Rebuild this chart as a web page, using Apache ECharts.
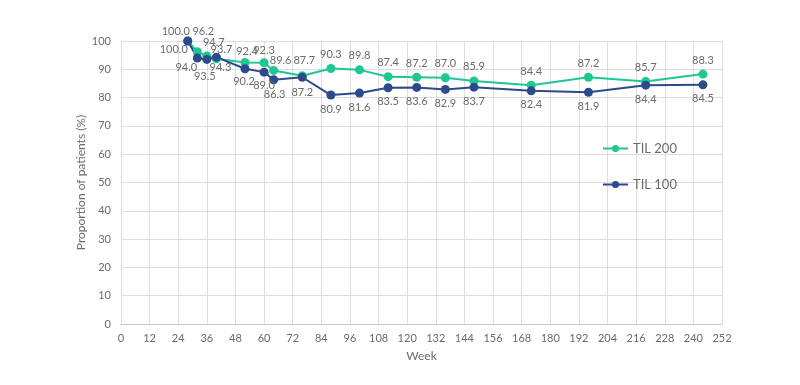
<!DOCTYPE html>
<html>
<head>
<meta charset="utf-8">
<script src="https://cdn.jsdelivr.net/npm/echarts@6/dist/echarts.min.js"></script>
<style>html,body{margin:0;padding:0;background:#fff;}#c{width:800px;height:385px;}</style>
</head>
<body>
<div id="c"></div>
<script>
var weeks = [28, 32, 36, 40, 52, 60, 64, 76, 88, 100, 112, 124, 136, 148, 172, 196, 220, 244];
var til200 = [100.0, 96.2, 94.7, 93.7, 92.4, 92.3, 89.6, 87.7, 90.3, 89.8, 87.4, 87.2, 87.0, 85.9, 84.4, 87.2, 85.7, 88.3];
var til100 = [100.0, 94.0, 93.5, 94.3, 90.2, 89.0, 86.3, 87.2, 80.9, 81.6, 83.5, 83.6, 82.9, 83.7, 82.4, 81.9, 84.4, 84.5];
var seriesNames = ['TIL 200', 'TIL 100'];

// label placement (styling only, separate from data)
var off200 = [[-12,-10],[6,-20],[7,-14],[5,-9],[2,-11],[0,-12],[7,-10],[2,-15]];
var off100 = [[-14,8],[-11,9],[-2,17],[4,10],[-1,13],[0,13],[1,15],[0,15]];

var FONT = 'Lato';
var TXT = '#6b6b6b';

function build(vals, offs, defOff) {
  return vals.map(function (v, i) {
    return {
      value: [weeks[i], v],
      label: { offset: offs[i] || defOff }
    };
  });
}

var labelCfg = {
  show: true, position: 'inside',
  formatter: function (p) { return p.value[1].toFixed(1); },
  fontFamily: FONT, fontSize: 11, color: TXT
};

var chart = echarts.init(document.getElementById('c'));
chart.setOption({
  animation: false,
  grid: { left: 121, right: 78, top: 41, bottom: 61 },
  legend: {
    orient: 'vertical',
    left: 597,
    top: 137,
    itemGap: 23,
    itemWidth: 25,
    itemHeight: 9,
    textStyle: { fontFamily: FONT, fontSize: 13, color: TXT },
    data: seriesNames
  },
  xAxis: {
    type: 'value',
    min: 0, max: 252, interval: 12,
    name: 'Week',
    nameLocation: 'middle',
    nameGap: 26,
    nameTextStyle: { fontFamily: FONT, fontSize: 12, color: TXT },
    axisLine: { lineStyle: { color: '#c8c8c8' } },
    axisTick: { show: false },
    axisLabel: { fontFamily: FONT, fontSize: 11, color: TXT, margin: 9 },
    splitLine: { show: true, lineStyle: { color: '#dedede' } }
  },
  yAxis: {
    type: 'value',
    min: 0, max: 100, interval: 10,
    name: 'Proportion of patients (%)',
    nameLocation: 'middle',
    nameGap: 34,
    nameMoveOverlap: false,
    nameTextStyle: { fontFamily: FONT, fontSize: 12, color: TXT },
    axisLine: { show: false },
    axisTick: { show: false },
    axisLabel: { fontFamily: FONT, fontSize: 11, color: TXT, margin: 10 },
    splitLine: { show: true, lineStyle: { color: '#dedede' } }
  },
  series: [
    {
      name: seriesNames[0],
      type: 'line',
      data: build(til200, off200, [0, -14]),
      symbol: 'circle',
      symbolSize: 9,
      color: '#1fc795',
      lineStyle: { width: 2 },
      label: labelCfg
    },
    {
      name: seriesNames[1],
      type: 'line',
      data: build(til100, off100, [0, 14]),
      symbol: 'circle',
      symbolSize: 9,
      color: '#2c4a8c',
      lineStyle: { width: 2 },
      label: labelCfg
    }
  ]
});
</script>
</body>
</html>
